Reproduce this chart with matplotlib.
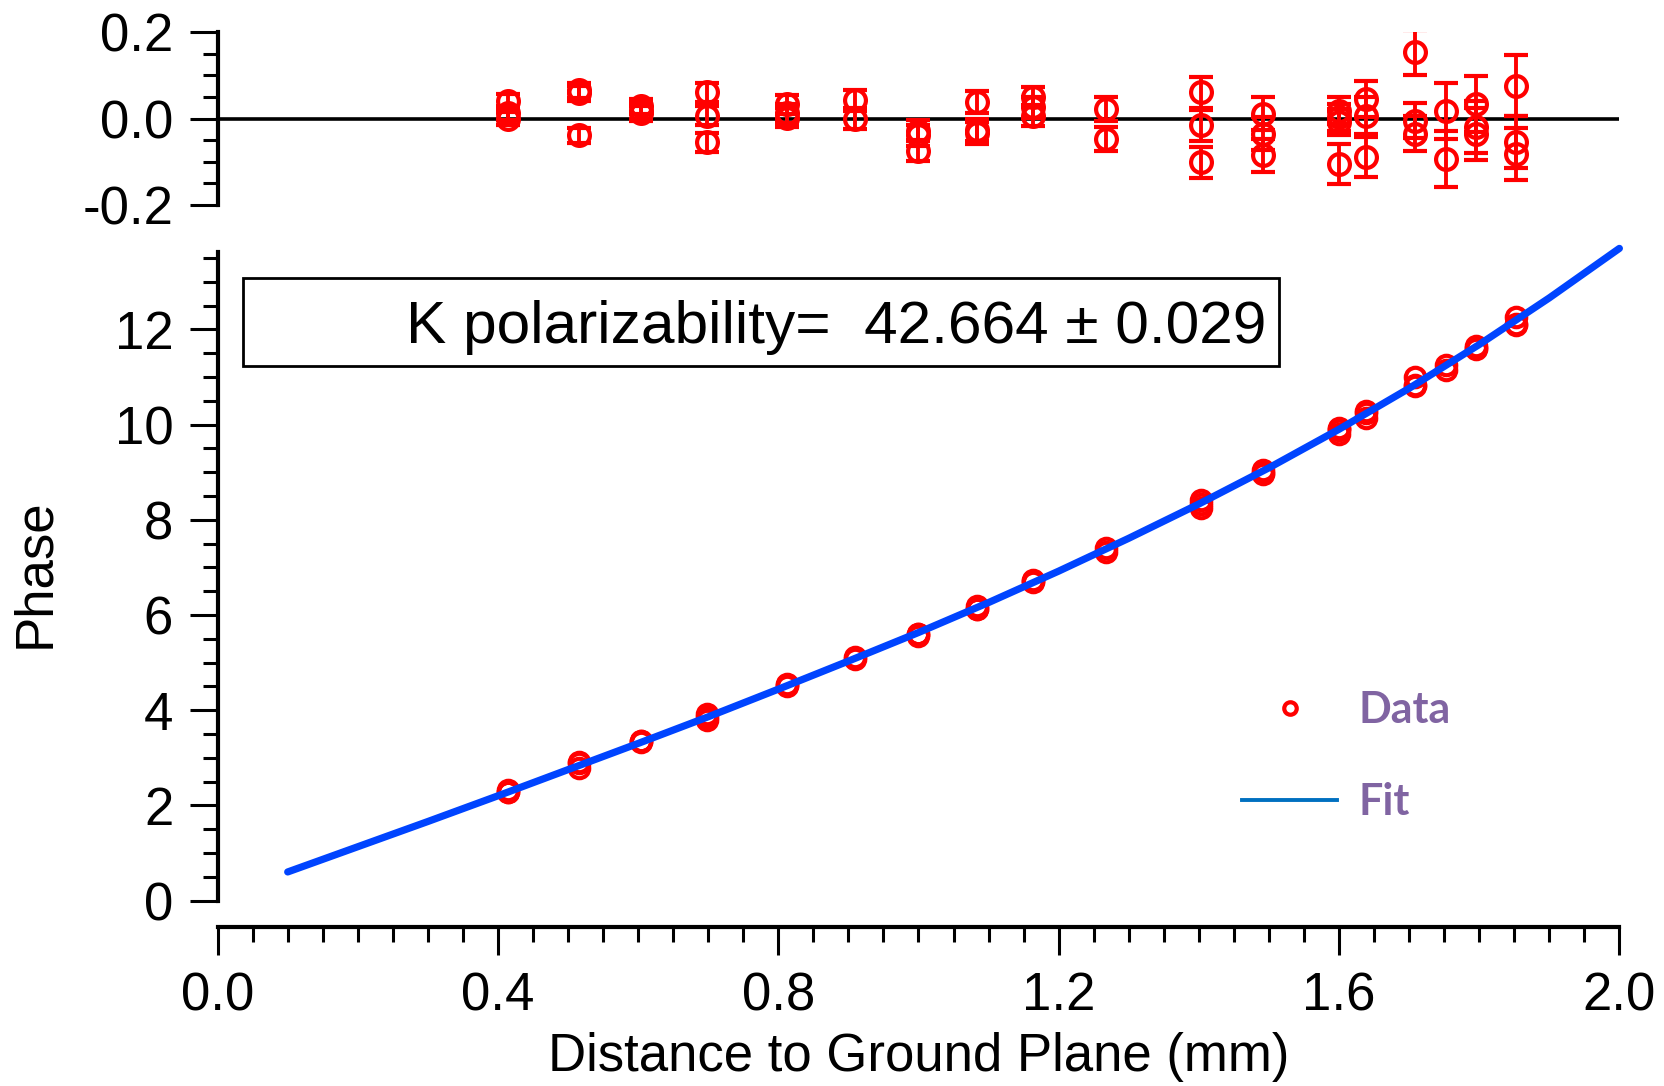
# Phase vs distance with fit and residuals
import matplotlib
matplotlib.use("Agg")
import matplotlib.pyplot as plt
from matplotlib.lines import Line2D
from matplotlib.patches import Rectangle
from matplotlib.ticker import MultipleLocator, FormatStrFormatter

plt.rcParams["font.family"] = ["Liberation Sans", "DejaVu Sans"]
plt.rcParams["axes.unicode_minus"] = False

# measured points (distance in mm), repeated measurements per position
dist = [0.414, 0.414, 0.414,
        0.515, 0.515, 0.515,
        0.6045, 0.6045, 0.6045,
        0.698, 0.698, 0.698,
        0.812, 0.812, 0.812,
        0.909, 0.909,
        1.0, 1.0, 1.0,
        1.083, 1.083, 1.083,
        1.164, 1.164, 1.164,
        1.267, 1.267,
        1.403, 1.403, 1.403,
        1.492, 1.492, 1.492,
        1.6, 1.6, 1.6, 1.6,
        1.639, 1.639, 1.639,
        1.709, 1.709, 1.709,
        1.753, 1.753,
        1.795, 1.795, 1.795,
        1.852, 1.852, 1.852]

phase = [2.32, 2.29, 2.28,
         2.90, 2.89, 2.79,
         3.36, 3.35, 3.34,
         3.91, 3.86, 3.80,
         4.54, 4.52, 4.51,
         5.12, 5.08,
         5.60, 5.59, 5.56,
         6.19, 6.12, 6.12,
         6.73, 6.71, 6.69,
         7.40, 7.33,
         8.41, 8.33, 8.25,
         9.04, 8.99, 8.95,
         9.92, 9.90, 9.89, 9.80,
         10.28, 10.24, 10.14,
         10.99, 10.84, 10.81,
         11.26, 11.15,
         11.65, 11.60, 11.59,
         12.25, 12.12, 12.09]

resid = [0.040, 0.012, 0.000,
         0.065, 0.058, -0.039,
         0.028, 0.018, 0.012,
         0.061, 0.007, -0.055,
         0.033, 0.012, 0.002,
         0.042, 0.000,
         -0.028, -0.039, -0.074,
         0.038, -0.026, -0.034,
         0.050, 0.026, 0.007,
         0.022, -0.047,
         0.061, -0.016, -0.101,
         0.011, -0.035, -0.085,
         0.018, 0.003, -0.008, -0.105,
         0.045, 0.007, -0.089,
         0.153, -0.005, -0.035,
         0.018, -0.093,
         0.034, -0.020, -0.035,
         0.076, -0.055, -0.082]

resid_err = [0.016, 0.016, 0.016,
             0.018, 0.018, 0.018,
             0.018, 0.018, 0.018,
             0.022, 0.022, 0.022,
             0.022, 0.022, 0.022,
             0.024, 0.024,
             0.025, 0.025, 0.025,
             0.026, 0.026, 0.026,
             0.024, 0.024, 0.024,
             0.028, 0.028,
             0.036, 0.036, 0.036,
             0.038, 0.038, 0.038,
             0.031, 0.031, 0.031, 0.046,
             0.042, 0.042, 0.046,
             0.052, 0.040, 0.040,
             0.065, 0.065,
             0.065, 0.060, 0.060,
             0.071, 0.060, 0.060]

# fit curve
fit_x = [0.1, 0.2, 0.3, 0.4, 0.5, 0.6, 0.7, 0.8, 0.9, 1.0,
         1.1, 1.2, 1.3, 1.4, 1.5, 1.6, 1.7, 1.8, 1.9, 2.0]
fit_y = [0.60, 1.13, 1.66, 2.20, 2.75, 3.30, 3.86, 4.44, 5.03, 5.63,
         6.26, 6.92, 7.61, 8.33, 9.09, 9.90, 10.76, 11.68, 12.66, 13.70]

red = "#FF0000"
blue = "#0044FF"
purple = "#8064A2"
tick_fs = 38

fig = plt.figure(figsize=(16.65, 10.86), dpi=100)

# main panel
ax = fig.add_axes([0.1307, 0.1708, 0.8419, 0.5974])
ax.plot(dist, phase, "o", ms=14, mfc="none", mec=red, mew=3, zorder=2)
ax.plot(fit_x, fit_y, color=blue, lw=5.2, solid_capstyle="round", zorder=3,
        clip_on=False)
ax.set_xlim(0, 2.0)
ax.set_ylim(0, 13.63)
for s in ["top", "right"]:
    ax.spines[s].set_visible(False)
ax.spines["bottom"].set_position(("outward", 19))
ax.spines["left"].set_linewidth(3)
ax.spines["bottom"].set_linewidth(3)
ax.xaxis.set_major_locator(MultipleLocator(0.4))
ax.xaxis.set_minor_locator(MultipleLocator(0.05))
ax.xaxis.set_major_formatter(FormatStrFormatter("%.1f"))
ax.yaxis.set_major_locator(MultipleLocator(2))
ax.yaxis.set_minor_locator(MultipleLocator(0.5))
ax.tick_params(which="major", length=20, width=2.2, labelsize=tick_fs, pad=12)
ax.tick_params(which="minor", length=11, width=2.2)

# fit result box
ax.add_patch(Rectangle((0.0182, 0.8232), 0.7393, 0.136, transform=ax.transAxes,
                       fill=False, lw=2, ec="black", zorder=4))
ax.text(0.748, 0.859, "K polarizability=  42.664 \u00b1 0.029", transform=ax.transAxes,
        ha="right", va="baseline", fontsize=43.5)

# legend
h_data = Line2D([], [], ls="none", marker="o", ms=9, mfc="none", mec=red, mew=3)
h_fit = Line2D([], [], color="#0070C0", lw=2.8)
leg = ax.legend([h_data, h_fit], ["Data", "Fit"], loc="center left",
                bbox_to_anchor=(0.731, 0.2230), frameon=False, borderpad=0,
                borderaxespad=0, handlelength=2.2, handletextpad=0.5,
                labelspacing=1.2, prop={"family": "Lato", "weight": "bold", "size": 31})
for t in leg.get_texts():
    t.set_color(purple)

# residual panel
axr = fig.add_axes([0.1307, 0.8112, 0.8419, 0.1593])
axr.errorbar(dist, resid, yerr=resid_err, fmt="o", ms=15, mfc="none", mec=red,
             mew=3, ecolor=red, elinewidth=2.8, capsize=8.5, capthick=3.2, zorder=3)
axr.axhline(0, color="black", lw=2.6, zorder=2)
axr.set_xlim(0, 2.0)
axr.set_ylim(-0.2, 0.2)
for s in ["top", "right", "bottom"]:
    axr.spines[s].set_visible(False)
axr.spines["left"].set_linewidth(3)
axr.set_xticks([])
axr.yaxis.set_major_locator(MultipleLocator(0.2))
axr.yaxis.set_minor_locator(MultipleLocator(0.05))
axr.yaxis.set_major_formatter(FormatStrFormatter("%.1f"))
axr.tick_params(which="major", length=20, width=2.2, labelsize=tick_fs, pad=12)
axr.tick_params(which="minor", length=11, width=2.2)

fig.text(35 / 1665, 1 - 573 / 1086, "Phase", rotation=90, ha="center", va="center",
         fontsize=tick_fs)
fig.text(918.6 / 1665, 1 - 1056.6 / 1086, "Distance to Ground Plane (mm)",
         ha="center", va="center", fontsize=tick_fs)

fig.savefig("out.png", dpi=100)
